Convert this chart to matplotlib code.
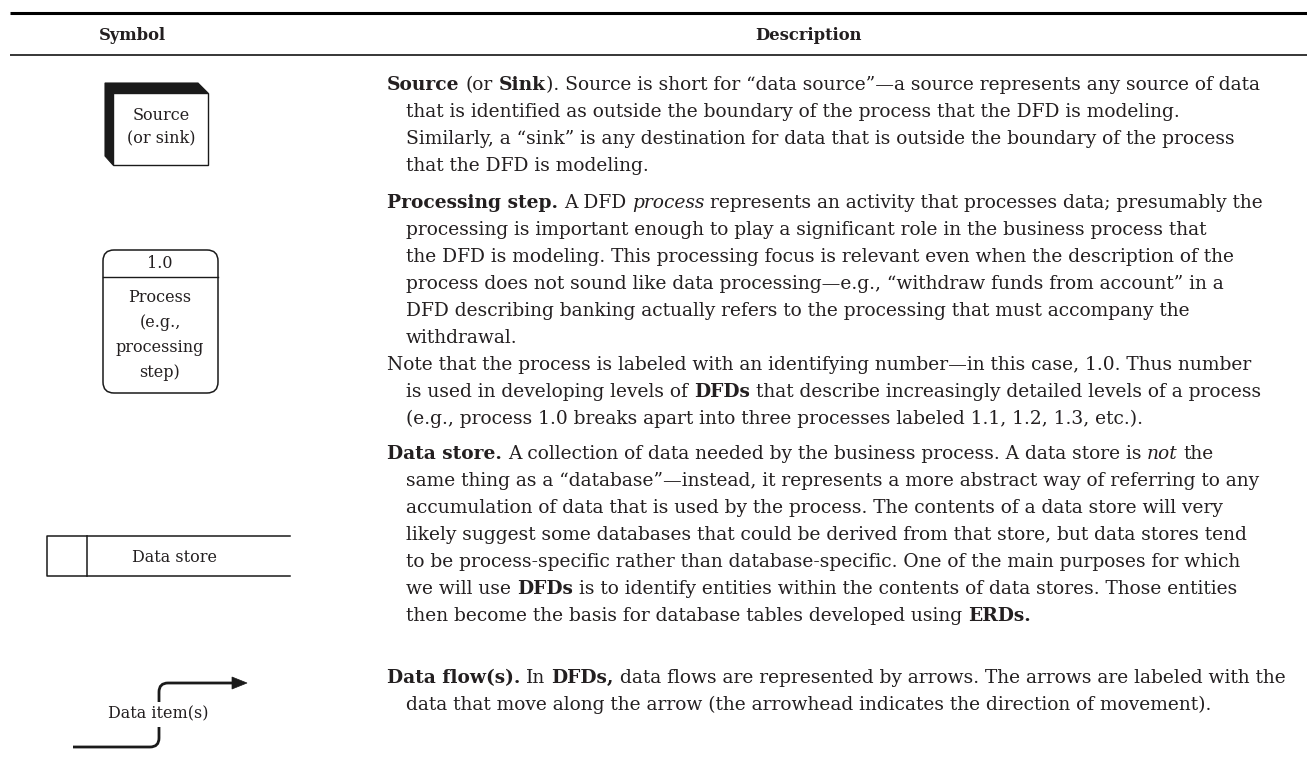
import numpy as np
import matplotlib
matplotlib.use('Agg')
import matplotlib.pyplot as plt
from matplotlib.path import Path
from matplotlib.patches import PathPatch, Polygon, Rectangle, FancyBboxPatch

# =============================================================================
# Table content
# =============================================================================
headers = ["Symbol", "Description"]

source_label = ["Source", "(or sink)"]
process_number = "1.0"
process_label = ["Process", "(e.g.,", "processing", "step)"]
store_label = "Data store"
flow_label = "Data item(s)"

# each line: list of (text, style) with style 'n' normal, 'b' bold, 'i' italic
para_source = [
    [("Source", "b"), (" (or ", "n"), ("Sink", "b"),
     ("). Source is short for \u201cdata source\u201d\u2014a source represents any source of data", "n")],
    [("that is identified as outside the boundary of the process that the DFD is modeling.", "n")],
    [("Similarly, a \u201csink\u201d is any destination for data that is outside the boundary of the process", "n")],
    [("that the DFD is modeling.", "n")],
]
para_process = [
    [("Processing step.", "b"), (" A DFD ", "n"), ("process", "i"),
     (" represents an activity that processes data; presumably the", "n")],
    [("processing is important enough to play a significant role in the business process that", "n")],
    [("the DFD is modeling. This processing focus is relevant even when the description of the", "n")],
    [("process does not sound like data processing\u2014e.g., \u201cwithdraw funds from account\u201d in a", "n")],
    [("DFD describing banking actually refers to the processing that must accompany the", "n")],
    [("withdrawal.", "n")],
]
para_note = [
    [("Note that the process is labeled with an identifying number\u2014in this case, 1.0. Thus number", "n")],
    [("is used in developing levels of ", "n"), ("DFDs", "b"),
     (" that describe increasingly detailed levels of a process", "n")],
    [("(e.g., process 1.0 breaks apart into three processes labeled 1.1, 1.2, 1.3, etc.).", "n")],
]
para_store = [
    [("Data store.", "b"), (" A collection of data needed by the business process. A data store is ", "n"),
     ("not", "i"), (" the", "n")],
    [("same thing as a \u201cdatabase\u201d\u2014instead, it represents a more abstract way of referring to any", "n")],
    [("accumulation of data that is used by the process. The contents of a data store will very", "n")],
    [("likely suggest some databases that could be derived from that store, but data stores tend", "n")],
    [("to be process-specific rather than database-specific. One of the main purposes for which", "n")],
    [("we will use ", "n"), ("DFDs", "b"),
     (" is to identify entities within the contents of data stores. Those entities", "n")],
    [("then become the basis for database tables developed using ", "n"), ("ERDs.", "b")],
]
para_flow = [
    [("Data flow(s).", "b"), (" In ", "n"), ("DFDs,", "b"),
     (" data flows are represented by arrows. The arrows are labeled with the", "n")],
    [("data that move along the arrow (the arrowhead indicates the direction of movement).", "n")],
]

paragraphs = [para_source, para_process, para_note, para_store, para_flow]
para_top = [84, 202, 364, 453, 677]   # y of first line (pixel coords)

# =============================================================================
# Figure: one axes in pixel coordinates
# =============================================================================
W, H = 1307, 784
fig = plt.figure(figsize=(W / 100, H / 100), dpi=100)
ax = fig.add_axes([0, 0, 1, 1])
ax.set_xlim(0, W)
ax.set_ylim(H, 0)
ax.axis('off')

FONT = 'DejaVu Serif'
FS = 13.4          # description text
FS_SYM = 11.5      # labels inside the symbols
FS_HEAD = 11.8     # column headers
INK = '#231f20'
renderer = fig.canvas.get_renderer()

def style_kw(st):
    kw = dict(family=FONT, fontsize=FS, color=INK)
    if st == 'b':
        kw['fontweight'] = 'bold'
    if st == 'i':
        kw['fontstyle'] = 'italic'
    return kw

def text_width(s, st):
    t = ax.text(0, 0, s, **style_kw(st))
    w = t.get_window_extent(renderer).width
    t.remove()
    return w

space_w = text_width("a a", 'n') - text_width("aa", 'n')

def draw_line(x, y, segments):
    for s, st in segments:
        lead = len(s) - len(s.lstrip(' '))
        trail = len(s) - len(s.rstrip(' '))
        core = s.strip(' ')
        x += lead * space_w
        ax.text(x, y, core, va='baseline', ha='left', **style_kw(st))
        x += text_width(core, st) + trail * space_w
    return x

# header rules and titles
ax.plot([10, W], [13, 13], color='black', lw=2.2, solid_capstyle='butt')
ax.plot([10, W], [55, 55], color='black', lw=1.1, solid_capstyle='butt')
ax.text(132, 35, headers[0], ha='center', va='center', family=FONT, fontsize=FS_HEAD,
        fontweight='bold', color=INK)
ax.text(808, 35, headers[1], ha='center', va='center', family=FONT, fontsize=FS_HEAD,
        fontweight='bold', color=INK)

# description column
LINE = 27
for para, top in zip(paragraphs, para_top):
    for k, segs in enumerate(para):
        x0 = 387 if k == 0 else 406
        draw_line(x0, top + k * LINE + 6, segs)

# --- source / sink: 3D box
shadow = Polygon([(105, 83), (198, 83), (208, 93), (113, 93), (113, 165), (105, 156)],
                 closed=True, facecolor='#1a1a1a', edgecolor='#1a1a1a', lw=0.8)
ax.add_patch(shadow)
ax.add_patch(Rectangle((113, 93), 95, 72, facecolor='white', edgecolor='#1a1a1a', lw=1.0))
for k, s in enumerate(source_label):
    ax.text(161, 115 + k * 23, s, ha='center', va='center', family=FONT,
            fontsize=FS_SYM, color=INK)

# --- process: rounded box
ax.add_patch(FancyBboxPatch((103, 250), 115, 143, boxstyle='round,pad=0,rounding_size=11',
                            facecolor='white', edgecolor='#1a1a1a', lw=1.1))
ax.plot([103, 218], [277, 277], color='#1a1a1a', lw=1.0)
ax.text(160, 264, process_number, ha='center', va='center', family=FONT,
        fontsize=FS_SYM, color=INK)
for k, s in enumerate(process_label):
    ax.text(160, 297 + k * 25, s, ha='center', va='center', family=FONT,
            fontsize=FS_SYM, color=INK)

# --- data store: open-ended rectangle
ax.plot([290, 47, 47, 290], [536, 536, 576, 576], color='#1a1a1a', lw=1.1)
ax.plot([87, 87], [536, 576], color='#1a1a1a', lw=1.1)
ax.text(175, 557, store_label, ha='center', va='center', family=FONT,
        fontsize=FS_SYM, color=INK)

# --- data flow: stepped arrow with label
lower = Path([(73, 747), (150, 747), (159, 747), (159, 738), (159, 727)],
             [Path.MOVETO, Path.LINETO, Path.CURVE3, Path.CURVE3, Path.LINETO])
upper = Path([(159, 702), (159, 692), (159, 683), (168, 683), (234, 683)],
             [Path.MOVETO, Path.LINETO, Path.CURVE3, Path.CURVE3, Path.LINETO])
for p in (lower, upper):
    ax.add_patch(PathPatch(p, facecolor='none', edgecolor='#1a1a1a', lw=2.0,
                           capstyle='butt'))
ax.add_patch(Polygon([(232, 677), (247, 683), (232, 689)], closed=True,
                     facecolor='#1a1a1a', edgecolor='#1a1a1a', lw=0.5))
ax.text(158, 714, flow_label, ha='center', va='center', family=FONT,
        fontsize=FS_SYM, color=INK)

fig.savefig('out.png', dpi=100)
plt.close('all')
